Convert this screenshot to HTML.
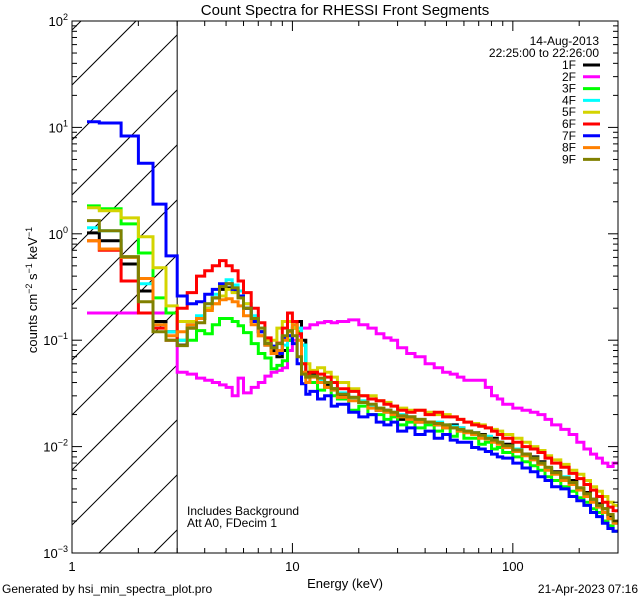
<!DOCTYPE html>
<html><head><meta charset="utf-8"><style>
html,body{margin:0;padding:0;background:#fff;width:640px;height:600px;overflow:hidden;}
svg{display:block;font-family:"Liberation Sans",sans-serif;overflow:hidden;}
</style></head><body>
<svg id="chart" width="640" height="600" viewBox="0 0 640 600" xmlns="http://www.w3.org/2000/svg">
<rect width="640" height="600" fill="#fff"/>
<text x="345" y="15" font-size="15" text-anchor="middle">Count Spectra for RHESSI Front Segments</text>
<g id="hatch"></g>
<g id="series"></g>
<g id="axes"></g>
<g id="legend"></g>
<text x="345" y="588" font-size="13" text-anchor="middle">Energy (keV)</text>
<text transform="translate(37,290) rotate(-90)" font-size="13" text-anchor="middle">counts cm<tspan dy="-5" font-size="9">−2</tspan><tspan dy="5"> s</tspan><tspan dy="-5" font-size="9">−1</tspan><tspan dy="5"> keV</tspan><tspan dy="-5" font-size="9">−1</tspan></text>
<text x="187" y="515" font-size="12">Includes Background</text>
<text x="187" y="527" font-size="12">Att A0, FDecim 1</text>
<text x="2" y="593" font-size="12">Generated by hsi_min_spectra_plot.pro</text>
<text x="638" y="593" font-size="12" text-anchor="end">21-Apr-2023 07:16</text>
</svg>
<script>
const edges=[1.17,1.33,1.67,2.0,2.33,2.67,3.0,3.33,3.67,4.0,4.33,4.67,5.0,5.33,5.67,6.0,6.5,7,7.5,8,8.5,9,9.5,10,10.5,11,11.5,12,13,14,15,16,18,20,22,24,26,28,30,33,36,40,44,48,52,56,60,65,70,75,80,85,90,100,110,120,130,140,150,165,180,195,210,225,240,255,270,285,300];
const seriesNames=["1F","2F","3F","4F","5F","6F","7F","8F","9F"];
const seriesColors=["#000000","#ff00ff","#00ff00","#00ffff","#d4d400","#ff0000","#0000ff","#ff8000","#808000"];
const s1F=[1.02,0.86,0.52,0.29,0.15,0.12, 0.09,0.13,0.16,0.2,0.25,0.3,0.31,0.29,0.26,0.2,0.16,0.12,0.09,0.08,0.07,0.08,0.1,0.13,0.15,0.1,0.05, 0.048,0.04,0.038,0.035,0.03,0.029,0.026,0.024,0.022,0.022,0.02,0.018,0.019,0.017,0.017,0.016,0.0155,0.016,0.015,0.014,0.0135,0.013,0.012,0.012,0.011,0.0105,0.0095,0.0085,0.008,0.0072,0.0062,0.0058,0.005,0.0048,0.004,0.0037,0.0032,0.0029,0.0026,0.0022,0.002];
const s2F=[0.18,0.18,0.18,0.18,0.18,0.18, 0.05,0.048,0.044,0.042,0.04,0.038,0.036,0.03,0.044,0.032,0.036,0.04,0.046,0.05,0.052,0.055,0.08,0.1,0.11,0.13,0.13, 0.14,0.146,0.15,0.146,0.15,0.155,0.14,0.13,0.115,0.105,0.1,0.085,0.075,0.07,0.06,0.055,0.05,0.048,0.045,0.042,0.042,0.042,0.036,0.03,0.028,0.025,0.023,0.022,0.021,0.02,0.018,0.016,0.0145,0.013,0.011,0.0095,0.0085,0.0078,0.007,0.0065,0.007];
const s3F=[1.83,1.72,1.24,0.66,0.25,0.18, 0.1,0.1,0.123,0.115,0.14,0.16,0.16,0.15,0.137,0.118,0.093,0.075,0.068,0.054,0.058,0.064,0.1,0.13,0.12,0.09,0.045, 0.04,0.034,0.036,0.03,0.028,0.022,0.024,0.02,0.02,0.018,0.019,0.016,0.017,0.015,0.016,0.014,0.015,0.0125,0.014,0.012,0.012,0.0105,0.011,0.0095,0.0098,0.0088,0.008,0.0072,0.0066,0.006,0.0052,0.0048,0.0042,0.0038,0.0033,0.003,0.0026,0.0024,0.002,0.0018,0.0016];
const s4F=[1.14,1.07,0.6,0.34,0.14,0.12, 0.1,0.14,0.17,0.22,0.27,0.33,0.37,0.33,0.29,0.22,0.17,0.13,0.1,0.085,0.08,0.09,0.11,0.14,0.13,0.09,0.045, 0.046,0.042,0.04,0.034,0.032,0.028,0.027,0.024,0.023,0.021,0.021,0.02,0.018,0.018,0.017,0.017,0.016,0.0155,0.015,0.014,0.0135,0.0125,0.0125,0.0115,0.011,0.01,0.0095,0.0083,0.0078,0.007,0.0063,0.0056,0.0052,0.0045,0.004,0.0035,0.0031,0.0027,0.0024,0.0021,0.0019];
const s5F=[1.76,1.65,1.41,0.94,0.48,0.21, 0.15,0.15,0.16,0.2,0.22,0.26,0.3,0.28,0.25,0.22,0.16,0.11,0.1,0.1,0.13,0.15,0.15,0.13,0.1,0.06,0.06, 0.052,0.055,0.05,0.045,0.04,0.035,0.03,0.03,0.027,0.026,0.024,0.023,0.022,0.022,0.021,0.02,0.02,0.019,0.018,0.017,0.0165,0.016,0.015,0.0145,0.014,0.013,0.012,0.011,0.01,0.0092,0.0082,0.0075,0.0068,0.006,0.0055,0.0048,0.0042,0.0038,0.0034,0.003,0.0028];
const s6F=[0.86,0.7,0.36,0.18,0.13,0.1, 0.2,0.28,0.4,0.45,0.5,0.56,0.5,0.45,0.36,0.28,0.2,0.146,0.105,0.085,0.094,0.13,0.18,0.15,0.115,0.06,0.048, 0.05,0.048,0.045,0.04,0.035,0.033,0.03,0.028,0.027,0.025,0.024,0.022,0.021,0.022,0.02,0.021,0.019,0.019,0.018,0.017,0.016,0.0155,0.015,0.014,0.013,0.012,0.011,0.01,0.0095,0.0088,0.0078,0.007,0.0064,0.0056,0.005,0.0044,0.0039,0.0034,0.003,0.0027,0.0025];
const s7F=[11.3,11.0,8.3,4.6,1.9,0.62, 0.26,0.22,0.23,0.27,0.3,0.34,0.34,0.3,0.26,0.2,0.15,0.12,0.093,0.088,0.075,0.105,0.11,0.093,0.06,0.039,0.031, 0.033,0.028,0.03,0.024,0.025,0.021,0.019,0.02,0.017,0.016,0.017,0.014,0.015,0.013,0.014,0.012,0.013,0.0115,0.011,0.011,0.0098,0.0095,0.009,0.0085,0.008,0.0078,0.007,0.0063,0.0058,0.0052,0.0048,0.0042,0.004,0.0034,0.0031,0.0028,0.0024,0.0022,0.0019,0.0017,0.0016];
const s8F=[0.86,0.72,0.6,0.38,0.14,0.11, 0.12,0.14,0.16,0.19,0.22,0.24,0.245,0.23,0.21,0.17,0.14,0.11,0.09,0.075,0.08,0.1,0.12,0.14,0.1,0.05,0.04, 0.045,0.04,0.036,0.034,0.029,0.027,0.026,0.023,0.022,0.021,0.02,0.019,0.018,0.017,0.017,0.016,0.015,0.015,0.014,0.0135,0.013,0.012,0.0118,0.011,0.0105,0.0098,0.009,0.0082,0.0075,0.0068,0.006,0.0055,0.0048,0.0044,0.0039,0.0034,0.003,0.0027,0.0024,0.0021,0.0019];
const s9F=[1.33,1.07,0.61,0.23,0.12,0.1, 0.089,0.13,0.146,0.22,0.25,0.32,0.34,0.31,0.25,0.2,0.16,0.13,0.093,0.085,0.093,0.11,0.123,0.11,0.07,0.048,0.045, 0.046,0.044,0.04,0.035,0.031,0.029,0.026,0.025,0.023,0.022,0.021,0.0195,0.019,0.018,0.017,0.0165,0.016,0.015,0.0145,0.014,0.0135,0.0128,0.012,0.0115,0.011,0.0102,0.0093,0.0085,0.0078,0.007,0.0064,0.0057,0.0051,0.0046,0.0041,0.0036,0.0032,0.0028,0.0026,0.0023,0.002];
const seriesValues=[s1F,s2F,s3F,s4F,s5F,s6F,s7F,s8F,s9F];
const yTickExps=[-3,-2,-1,0,1,2];
const xTickLabels=[1,10,100];
const legendDate="14-Aug-2013";
const legendTime="22:25:00 to 22:26:00";

const NS="http://www.w3.org/2000/svg";
const L=72,R=618,T=21,B=553;
const xMin=1,xMax=300,yMinE=-3,yMaxE=2;
function xs(e){return L+(Math.log10(e)-Math.log10(xMin))/(Math.log10(xMax)-Math.log10(xMin))*(R-L);}
function ys(v){return T+(yMaxE-Math.log10(v))/(yMaxE-yMinE)*(B-T);}
function mk(tag,attrs,parent){const el=document.createElementNS(NS,tag);for(const k in attrs)el.setAttribute(k,attrs[k]);parent.appendChild(el);return el;}
const svg=document.getElementById('chart');
const defs=mk('defs',{},svg);
const cp=mk('clipPath',{id:'plotclip'},defs);
mk('rect',{x:L,y:T,width:R-L,height:B-T},cp);

const hatch=document.getElementById('hatch');
const X3=xs(3);
for(let k=-3;k<14;k++){
  const c=85+55*k;
  const xa=Math.max(L,L+c-B), xb=Math.min(X3,L+c-T);
  if(xa>=xb) continue;
  const ln=mk('line',{x1:xa,y1:c-(xa-L),x2:xb,y2:c-(xb-L),stroke:'#000','stroke-width':1},hatch);
  
  
}
const vl=mk('line',{x1:X3,y1:T,x2:X3,y2:B,stroke:'#000','stroke-width':1},hatch);



const sg=document.getElementById('series');
sg.setAttribute('clip-path','url(#plotclip)');
seriesValues.forEach((vals,si)=>{
  let d='';
  const n=Math.min(vals.length,edges.length-1);
  for(let i=0;i<n;i++){
    const y=Math.min(B,Math.max(T,ys(vals[i]))).toFixed(1);
    const x0=xs(edges[i]).toFixed(1),x1=xs(edges[i+1]).toFixed(1);
    d+=(i===0?'M':'L')+x0+','+y+'L'+x1+','+y;
  }
  const p=mk('path',{d:d,fill:'none',stroke:seriesColors[si],'stroke-width':3,'stroke-linejoin':'miter'},sg);
  
  
});

const ax=document.getElementById('axes');
const frame=mk('rect',{x:L,y:T,width:R-L,height:B-T,fill:'none',stroke:'#000','stroke-width':1},ax);


for(let dec=0;dec<3;dec++){
  for(let m=1;m<10;m++){
    const e=m*Math.pow(10,dec); if(e>xMax)break;
    const x=xs(e),len=m===1?10:5;
    const t1=mk('line',{x1:x,y1:B,x2:x,y2:B-len,stroke:'#000'},ax);
    
    
    const t2=mk('line',{x1:x,y1:T,x2:x,y2:T+len,stroke:'#000'},ax);
    
    
  }
}
xTickLabels.forEach(v=>{
  const t=mk('text',{x:xs(v),y:B+18,'font-size':13,'text-anchor':'middle'},ax);
  t.textContent=String(v);
  
  
});
for(let e=yMinE;e<yMaxE;e++){
  for(let m=1;m<10;m++){
    const y=ys(m*Math.pow(10,e)),len=m===1?10:5;
    const t1=mk('line',{x1:L,y1:y,x2:L+len,y2:y,stroke:'#000'},ax);
    
    
    const t2=mk('line',{x1:R,y1:y,x2:R-len,y2:y,stroke:'#000'},ax);
    
    
  }
}
yTickExps.forEach(e=>{
  const t=mk('text',{x:L-4,y:ys(Math.pow(10,e))+5,'font-size':13,'text-anchor':'end'},ax);
  
  
  const a=document.createElementNS(NS,'tspan');a.textContent='10';t.appendChild(a);
  const b=document.createElementNS(NS,'tspan');b.setAttribute('dy','-6');b.setAttribute('font-size','9');
  b.textContent=e<0?'−'+(-e):String(e);t.appendChild(b);
});

const lg=document.getElementById('legend');
const d1=mk('text',{x:599,y:45,'font-size':12,'text-anchor':'end'},lg);
d1.textContent=legendDate;


const d2=mk('text',{x:599,y:57,'font-size':12,'text-anchor':'end'},lg);
d2.textContent=legendTime;


seriesNames.forEach((nm,i)=>{
  const y=65+i*11.8;
  const t=mk('text',{x:576,y:y+4,'font-size':12,'text-anchor':'end'},lg);
  t.textContent=nm;
  
  
  const l=mk('line',{x1:583,y1:y,x2:600,y2:y,stroke:seriesColors[i],'stroke-width':3},lg);
  
  
});
</script>
</body></html>
